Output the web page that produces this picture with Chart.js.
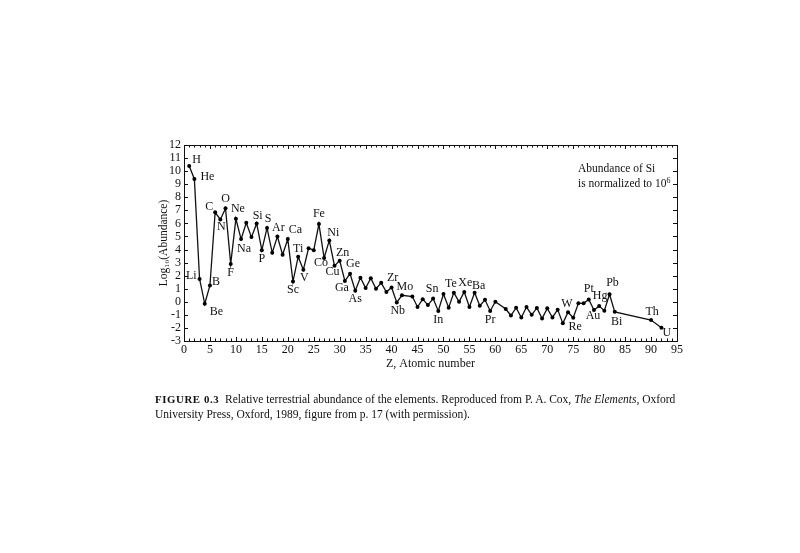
<!DOCTYPE html>
<html>
<head>
<meta charset="utf-8">
<script src="https://cdn.jsdelivr.net/npm/chart.js@4.4.1/dist/chart.umd.min.js"></script>
<style>
  html, body { margin: 0; padding: 0; background: #fff; }
  body { width: 800px; height: 553px; position: relative; overflow: hidden; font-family: "Liberation Serif", "DejaVu Serif", serif; }
  #c { position: absolute; left: 0; top: 0; }
  #note { position: absolute; left: 578px; top: 161px; font-size: 11.5px; line-height: 15px; color: #111; }
  #note sup { font-size: 8px; vertical-align: 4px; line-height: 0; }
  #caption { position: absolute; left: 155px; top: 392px; width: 620px; white-space: nowrap; font-size: 11.5px; line-height: 14.5px; color: #111; }
  #caption b { letter-spacing: 0.6px; font-size: 10.8px; margin-right: 3px; }
</style>
</head>
<body>
<canvas id="c" width="800" height="553"></canvas>
<div id="note">Abundance of Si<br>is normalized to 10<sup>6</sup></div>
<div id="caption"><b>FIGURE 0.3</b> Relative terrestrial abundance of the elements. Reproduced from P. A. Cox, <i>The Elements</i>, Oxford<br>University Press, Oxford, 1989, figure from p. 17 (with permission).</div>
<script>
// ---- data ----
const atomicNumbers = [1,2,3,4,5,6,7,8,9,10,11,12,13,14,15,16,17,18,19,20,21,22,23,24,25,26,27,28,29,30,31,32,33,34,35,36,37,38,39,40,41,42,44,45,46,47,48,49,50,51,52,53,54,55,56,57,58,59,60,62,63,64,65,66,67,68,69,70,71,72,73,74,75,76,77,78,79,80,81,82,83,90,92];
const symbols = ["H","He","Li","Be","B","C","N","O","F","Ne","Na","Mg","Al","Si","P","S","Cl","Ar","K","Ca","Sc","Ti","V","Cr","Mn","Fe","Co","Ni","Cu","Zn","Ga","Ge","As","Se","Br","Kr","Rb","Sr","Y","Zr","Nb","Mo","Ru","Rh","Pd","Ag","Cd","In","Sn","Sb","Te","I","Xe","Cs","Ba","La","Ce","Pr","Nd","Sm","Eu","Gd","Tb","Dy","Ho","Er","Tm","Yb","Lu","Hf","Ta","W","Re","Os","Ir","Pt","Au","Hg","Tl","Pb","Bi","Th","U"];
const logAbundance = [10.4,9.4,1.75,-0.15,1.25,6.85,6.3,7.15,2.9,6.35,4.8,6.05,4.95,6.0,3.95,5.65,3.75,5.0,3.6,4.8,1.55,3.45,2.45,4.1,3.95,5.95,3.35,4.7,2.75,3.15,1.6,2.15,0.85,1.85,1.05,1.8,1.0,1.45,0.75,1.1,-0.05,0.5,0.4,-0.4,0.2,-0.25,0.25,-0.7,0.6,-0.45,0.7,0.0,0.75,-0.4,0.7,-0.3,0.15,-0.7,0.0,-0.55,-1.05,-0.45,-1.2,-0.4,-1.0,-0.47,-1.28,-0.5,-1.2,-0.6,-1.65,-0.8,-1.22,-0.12,-0.12,0.18,-0.63,-0.33,-0.68,0.58,-0.77,-1.4,-1.98];
const labelledElements = ["H","He","Li","Be","B","C","N","O","F","Ne","Na","Si","P","S","Ar","Ca","Sc","Ti","V","Fe","Co","Ni","Cu","Zn","Ga","Ge","As","Zr","Nb","Mo","Sn","In","Te","Xe","Ba","Pr","W","Re","Pt","Au","Hg","Pb","Bi","Th","U"];
const xTickValues = [0,5,10,15,20,25,30,35,40,45,50,55,60,65,70,75,80,85,90,95];
const yTickValues = [-3,-2,-1,0,1,2,3,4,5,6,7,8,9,10,11,12];

// ---- label placement (pixel offsets of label centre from its point) ----
const labelOffsets = {
  H:[7,-6], He:[10,-2], Li:[-7,-3], Be:[9,8], B:[6,-4], C:[-6,-5], N:[1,7], O:[0,-10], F:[0,9],
  Ne:[2,-10], Na:[3,10], Si:[1,-8], P:[0,9], S:[1,-9], Ar:[1,-9], Ca:[5,-9], Sc:[0,8], Ti:[0,-8],
  V:[1,8], Fe:[0,-10], Co:[-3,5], Ni:[4,-8], Cu:[-2,6], Zn:[3,-8], Ga:[-3,7], Ge:[3,-10], As:[0,8],
  Zr:[1,-10], Nb:[1,8], Mo:[3,-8], Sn:[-9,-5], In:[0,9], Te:[-3,-9], Xe:[1,-9], Ba:[4,-7], Pr:[0,9],
  W:[-1,-8], Re:[2,9], Pt:[0,-11], Au:[-1,6], Hg:[1,-10], Pb:[3,-11], Bi:[2,10], Th:[1,-8], U:[5,5]
};

const points = atomicNumbers.map((z, i) => ({ x: z, y: logAbundance[i] }));
const FONT = '"Liberation Serif", "DejaVu Serif", serif';

const framePlugin = {
  id: 'frame',
  afterDatasetsDraw(chart) {
    const { ctx, chartArea: a, scales: { x, y } } = chart;
    ctx.save();
    ctx.strokeStyle = '#111';
    ctx.lineWidth = 1;
    ctx.strokeRect(a.left + 0.5, a.top + 0.5, a.right - a.left, a.bottom - a.top);
    ctx.beginPath();
    for (let v = 0; v <= 95; v++) {
      const px = Math.round(x.getPixelForValue(v)) + 0.5;
      const len = v % 5 === 0 ? 4 : 2.5;
      ctx.moveTo(px, a.bottom); ctx.lineTo(px, a.bottom - len);
      ctx.moveTo(px, a.top); ctx.lineTo(px, a.top + len);
    }
    yTickValues.forEach(v => {
      const py = Math.round(y.getPixelForValue(v)) + 0.5;
      ctx.moveTo(a.left, py); ctx.lineTo(a.left + 4, py);
      ctx.moveTo(a.right, py); ctx.lineTo(a.right - 4, py);
    });
    ctx.stroke();
    // element labels
    ctx.fillStyle = '#111';
    ctx.font = '12px ' + FONT;
    ctx.textAlign = 'center';
    ctx.textBaseline = 'middle';
    labelledElements.forEach(s => {
      const i = symbols.indexOf(s);
      const px = x.getPixelForValue(atomicNumbers[i]);
      const py = y.getPixelForValue(logAbundance[i]);
      const o = labelOffsets[s];
      const w = ctx.measureText(s).width;
      ctx.fillText(s, px + o[0] + (o[0] > 4 ? w / 2 - 4 : 0) - (o[0] < -4 ? w / 2 - 4 : 0), py + o[1]);
    });
    ctx.restore();
  }
};

new Chart(document.getElementById('c'), {
  type: 'scatter',
  data: {
    datasets: [{
      data: points,
      showLine: true,
      borderColor: '#111',
      backgroundColor: '#111',
      borderWidth: 1.3,
      pointRadius: 2,
      pointStyle: 'circle',
      pointBorderWidth: 0,
      pointBackgroundColor: '#000',
      tension: 0
    }]
  },
  options: {
    responsive: false,
    animation: false,
    devicePixelRatio: 1,
    layout: { padding: { left: 0, top: 145, right: 123, bottom: 180 } },
    plugins: { legend: { display: false }, tooltip: { enabled: false } },
    scales: {
      x: {
        type: 'linear', min: 0, max: 95,
        afterBuildTicks: s => { s.ticks = xTickValues.map(v => ({ value: v })); },
        afterFit: s => { s.height = 32; },
        grid: { display: false, drawTicks: false },
        border: { display: false },
        ticks: { color: '#111', padding: 2, maxRotation: 0, autoSkip: false, font: { family: FONT, size: 12 } },
        title: { display: true, text: 'Z, Atomic number', color: '#111', padding: { top: 0, bottom: 2 }, font: { family: FONT, size: 12 } }
      },
      y: {
        type: 'linear', min: -3, max: 12,
        afterBuildTicks: s => { s.ticks = yTickValues.map(v => ({ value: v })); },
        afterFit: s => { s.width = 184; },
        grid: { display: false, drawTicks: false },
        border: { display: false },
        ticks: { color: '#111', padding: 3, autoSkip: false, font: { family: FONT, size: 12 } },
        title: { display: true, text: 'Log₁₀(Abundance)', color: '#111', padding: { top: 157, bottom: 0 }, font: { family: FONT, size: 11.5 } }
      }
    }
  },
  plugins: [framePlugin]
});
</script>
</body>
</html>
